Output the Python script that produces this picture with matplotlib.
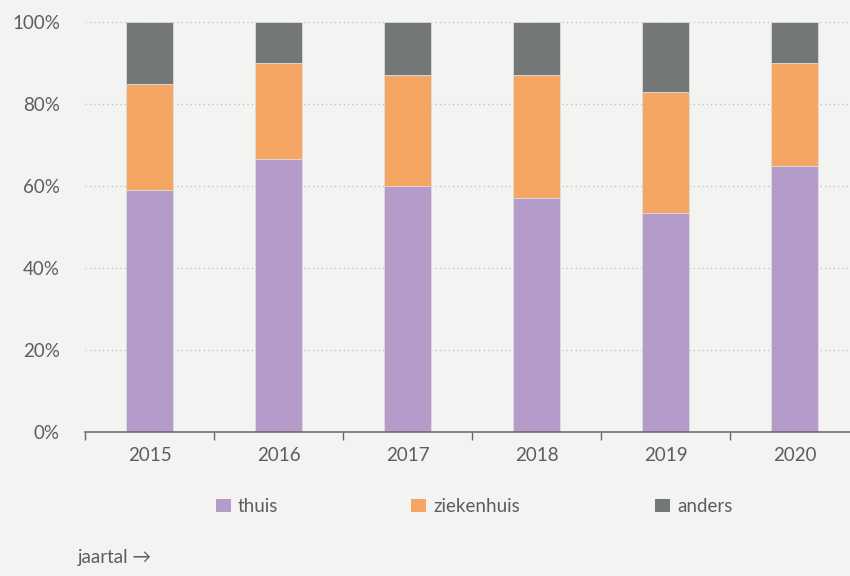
import numpy as np
import matplotlib.pyplot as plt
from matplotlib.patches import Patch

plt.rcParams['font.family'] = ['Lato', 'DejaVu Sans']

jaren = ['2015', '2016', '2017', '2018', '2019', '2020']
thuis = [59, 66.5, 60, 57, 53.5, 65]
ziekenhuis = [26, 23.5, 27, 30, 29.5, 25]
anders = [15, 10, 13, 13, 17, 10]

reeksen = ['thuis', 'ziekenhuis', 'anders']
kleuren = ['#b59bc9', '#f4a662', '#747778']
yticks = [0, 20, 40, 60, 80, 100]

bg = '#f3f3f2'
tekst = '#5d5d5d'
fs = 13.5

fig = plt.figure(figsize=(8.5, 5.76), dpi=100, facecolor=bg)
ax = fig.add_axes([0.1, 0.25, 0.9106, 0.7118], facecolor=bg)

x = np.arange(len(jaren))
onder = np.zeros(len(jaren))
for naam, waarden, kleur in zip(reeksen, [thuis, ziekenhuis, anders], kleuren):
    ax.bar(x, waarden, width=0.36, bottom=onder, color=kleur,
           edgecolor='#dcdcdc', linewidth=0.6, zorder=3)
    onder += np.array(waarden)

ax.set_xlim(-0.5, len(jaren) - 0.5)
ax.set_ylim(0, 100)
ax.set_yticks(yticks)
ax.set_yticklabels([f'{v}%' for v in yticks])
ax.yaxis.grid(True, linestyle=(0, (1, 2.5)), color='#bdbdbd', linewidth=0.9, zorder=0)

ax.set_xticks(x)
ax.set_xticklabels(jaren)
ax.set_xticks(np.arange(-0.5, len(jaren)), minor=True)
ax.tick_params(axis='x', which='major', length=0, pad=11, labelsize=fs, labelcolor=tekst)
ax.tick_params(axis='x', which='minor', length=6, width=1, color='#666666')
ax.tick_params(axis='y', length=0, pad=18, labelsize=fs, labelcolor=tekst)

for s in ['top', 'right', 'left']:
    ax.spines[s].set_visible(False)
ax.spines['bottom'].set_color('#666666')
ax.spines['bottom'].set_linewidth(1.1)
ax.spines['bottom'].set_zorder(4)

# legenda: elk item los geplaatst
posities = [0.254, 0.484, 0.771]
for naam, kleur, px in zip(reeksen, kleuren, posities):
    fig.legend(handles=[Patch(facecolor=kleur, label=naam)],
               loc='center left', bbox_to_anchor=(px, 0.121),
               frameon=False, handlelength=0.8, handleheight=0.7,
               handletextpad=0.35, borderaxespad=0, borderpad=0,
               fontsize=fs, labelcolor=tekst)

fig.text(0.091, 0.022, 'jaartal \u2192', fontsize=fs, color=tekst)

fig.savefig('out.png', dpi=100, facecolor=bg)
